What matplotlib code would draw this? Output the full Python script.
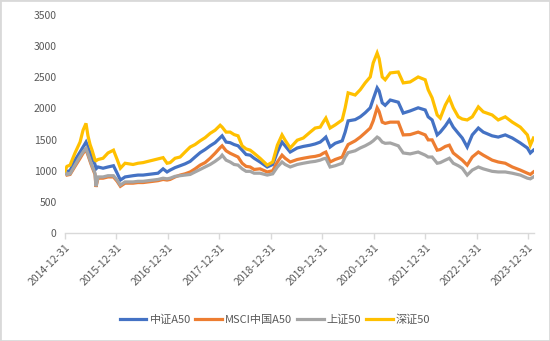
import matplotlib
matplotlib.use("Agg")
import matplotlib.pyplot as plt
import pandas as pd
from matplotlib.patches import Rectangle

plt.rcParams['font.family'] = ['Noto Sans CJK SC', 'DejaVu Sans']

# Index levels, base 1000 at 2014-12-31
dates = [
    "2014-12-31", "2015-01-14", "2015-02-05", "2015-03-12", "2015-04-17", "2015-05-08",
    "2015-05-29", "2015-06-12", "2015-06-27", "2015-07-11", "2015-08-01", "2015-08-08",
    "2015-08-22", "2015-09-27", "2015-11-01", "2015-12-10", "2016-01-05", "2016-01-28",
    "2016-03-01", "2016-04-27", "2016-06-01", "2016-07-07", "2016-08-11", "2016-09-16",
    "2016-10-21", "2016-11-26", "2016-12-24", "2017-01-15", "2017-02-19", "2017-03-27",
    "2017-05-01", "2017-06-06", "2017-07-11", "2017-08-16", "2017-09-20", "2017-10-26",
    "2017-11-30", "2018-01-05", "2018-01-19", "2018-02-16", "2018-03-17", "2018-04-14",
    "2018-05-12", "2018-06-10", "2018-07-08", "2018-08-06", "2018-09-03", "2018-10-15",
    "2018-12-05", "2019-01-13", "2019-02-15", "2019-03-20", "2019-04-11", "2019-05-17",
    "2019-07-06", "2019-08-18", "2019-10-06", "2019-11-10", "2019-12-16", "2020-01-06",
    "2020-01-25", "2020-02-24", "2020-03-31", "2020-05-20", "2020-06-10", "2020-07-01",
    "2020-08-20", "2020-09-25", "2020-10-30", "2020-12-05", "2020-12-26", "2021-01-23",
    "2021-02-06", "2021-02-28", "2021-03-21", "2021-04-26", "2021-06-22", "2021-07-27",
    "2021-09-14", "2021-11-10", "2021-12-30", "2022-01-20", "2022-02-17", "2022-03-25",
    "2022-04-16", "2022-05-22", "2022-06-19", "2022-07-17", "2022-08-22", "2022-09-19",
    "2022-10-24", "2022-11-29", "2023-01-11", "2023-02-15", "2023-04-19", "2023-06-01",
    "2023-07-21", "2023-09-09", "2023-11-05", "2023-12-25", "2024-01-15", "2024-02-06",
]

szse50 = [
    1000, 1070, 1090, 1285, 1460, 1650,
    1760, 1560, 1420, 1330, 1170, 1160,
    1180, 1200, 1285, 1330, 1180, 1040,
    1120, 1100, 1120, 1130, 1150, 1170,
    1190, 1210, 1120, 1130, 1200, 1220,
    1300, 1380, 1420, 1480, 1530, 1600,
    1650, 1730, 1700, 1620, 1620, 1580,
    1560, 1400, 1350, 1330, 1280, 1200,
    1090, 1140, 1410, 1575, 1490, 1365,
    1490, 1525, 1620, 1685, 1700, 1780,
    1845, 1685, 1735, 1815, 2010, 2250,
    2215, 2300, 2410, 2505, 2730, 2890,
    2800, 2505, 2460, 2570, 2585, 2410,
    2425, 2505, 2460, 2300, 2170, 1895,
    1845, 2055, 2170, 2010, 1865, 1830,
    1815, 1865, 2025, 1945, 1895, 1815,
    1865, 1780, 1700, 1575, 1410, 1525,
]

csi_a50 = [
    1000, 990, 1000, 1170, 1300, 1380,
    1460, 1380, 1285, 1200, 1100, 1030,
    1060, 1040, 1060, 1080, 960, 850,
    900, 920, 930, 930, 940, 950,
    960, 1030, 980, 1010, 1050, 1080,
    1110, 1150, 1220, 1290, 1340, 1400,
    1450, 1530, 1560, 1460, 1450, 1420,
    1400, 1330, 1260, 1250, 1200, 1140,
    1060, 1100, 1300, 1460, 1400, 1300,
    1365, 1390, 1410, 1430, 1460, 1500,
    1540, 1380, 1440, 1480, 1620, 1800,
    1820, 1865, 1930, 2010, 2150, 2330,
    2280, 2090, 2050, 2135, 2100, 1925,
    1960, 2010, 1975, 1865, 1815, 1575,
    1620, 1720, 1815, 1700, 1600, 1525,
    1380, 1575, 1685, 1620, 1560, 1540,
    1575, 1525, 1445, 1365, 1285, 1330,
]

msci_a50 = [
    1000, 930, 940, 1070, 1200, 1280,
    1340, 1250, 1150, 1060, 940, 740,
    880, 880, 900, 900, 830, 750,
    800, 800, 810, 810, 820, 830,
    840, 860, 850, 860, 900, 930,
    950, 980, 1030, 1090, 1130, 1200,
    1280, 1370, 1400, 1320, 1280, 1250,
    1220, 1120, 1070, 1060, 1020, 1030,
    980, 1000, 1140, 1250, 1200, 1140,
    1180, 1200, 1220, 1230, 1250, 1280,
    1300, 1140, 1180, 1220, 1330, 1420,
    1480, 1540, 1610, 1685, 1800, 2010,
    1950, 1780, 1760, 1780, 1780, 1575,
    1580, 1620, 1575, 1495, 1495, 1330,
    1340, 1390, 1410, 1285, 1220, 1170,
    1090, 1220, 1300, 1250, 1170, 1140,
    1120, 1060, 1010, 960, 940, 980,
]

sse50 = [
    1000, 940, 950, 1090, 1230, 1300,
    1360, 1270, 1170, 1080, 960, 750,
    900, 900, 920, 920, 850, 770,
    820, 820, 830, 830, 840, 850,
    860, 880, 870, 880, 910, 920,
    930, 940, 980, 1020, 1060, 1100,
    1150, 1210, 1250, 1170, 1140, 1100,
    1090, 1030, 990, 990, 960, 960,
    930, 950, 1060, 1140, 1100, 1060,
    1100, 1120, 1140, 1150, 1170, 1190,
    1200, 1060, 1080, 1120, 1220, 1290,
    1320, 1365, 1400, 1445, 1480, 1540,
    1520, 1460, 1440, 1445, 1400, 1285,
    1270, 1300, 1250, 1220, 1220, 1120,
    1130, 1170, 1200, 1120, 1080, 1040,
    930, 1010, 1060, 1030, 990, 980,
    980, 960, 930, 880, 870, 900,
]

series_names = ["中证A50", "MSCI中国A50", "上证50", "深证50"]
series_colors = ["#4472C4", "#ED7D31", "#A5A5A5", "#FFC000"]
tick_dates = ["2014-12-31", "2015-12-31", "2016-12-31", "2017-12-31", "2018-12-31",
              "2019-12-31", "2020-12-31", "2021-12-31", "2022-12-31", "2023-12-31"]
y_ticks = [0, 500, 1000, 1500, 2000, 2500, 3000, 3500]

text_color = "#595959"
axis_color = "#D9D9D9"

fig = plt.figure(figsize=(5.5, 3.41), dpi=100)
ax = fig.add_axes([65 / 550, 1 - 233 / 341, (534 - 65) / 550, (233 - 15) / 341])

x = pd.to_datetime(dates)
for values, name, color in zip([csi_a50, msci_a50, sse50, szse50], series_names, series_colors):
    ax.plot(x, values, color=color, lw=2.3, label=name, solid_joinstyle="miter")

ax.set_ylim(0, 3500)
ax.set_yticks(y_ticks)
ax.set_xlim(pd.Timestamp("2014-12-31"), pd.Timestamp("2024-02-10"))
ax.set_xticks(pd.to_datetime(tick_dates))
ax.set_xticklabels(tick_dates, rotation=45, ha="right", rotation_mode="anchor")

for side in ["left", "right", "top"]:
    ax.spines[side].set_visible(False)
ax.spines["bottom"].set_color(axis_color)
ax.spines["bottom"].set_linewidth(1.0)
ax.tick_params(axis="y", length=0, labelsize=7.5, labelcolor=text_color, pad=6)
ax.tick_params(axis="x", length=4, width=1, color=axis_color, labelsize=7.5,
               labelcolor=text_color, pad=3)

fig.legend(loc="center", bbox_to_anchor=(0.5, 1 - 320 / 341), ncol=4, frameon=False,
           fontsize=8, handlelength=2.4, handletextpad=0.3, columnspacing=0.4,
           labelcolor=text_color)

fig.patches.append(Rectangle((0, 0), 1, 1, transform=fig.transFigure, fill=False,
                             edgecolor=axis_color, lw=2))

fig.savefig("out.png", dpi=100)
